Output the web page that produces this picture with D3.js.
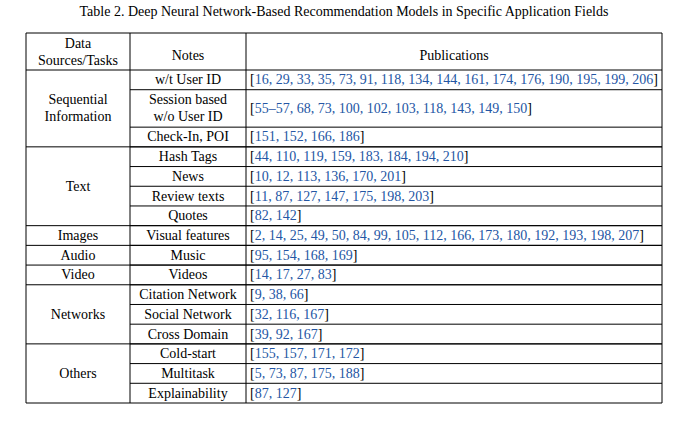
<!DOCTYPE html>
<html>
<head>
<meta charset="utf-8">
<script src="https://cdn.jsdelivr.net/npm/d3@7"></script>
<style>
body { margin: 0; background: #fff; }
</style>
</head>
<body>
<svg id="vis" width="689" height="429"></svg>
<script>
const CAPTION = "Table 2.  Deep Neural Network-Based Recommendation Models in Specific Application Fields";
const HEADERS = [["Data", "Sources/Tasks"], ["Notes"], ["Publications"]];
const GROUPS = [
    { "name" : ["Sequential", "Information"], "size" : 3 },
    { "name" : ["Text"], "size" : 4 },
    { "name" : ["Images"], "size" : 1 },
    { "name" : ["Audio"], "size" : 1 },
    { "name" : ["Video"], "size" : 1 },
    { "name" : ["Networks"], "size" : 3 },
    { "name" : ["Others"], "size" : 3 }
];
const NOTES = [
    ["w/t User ID"], ["Session based", "w/o User ID"], ["Check-In, POI"],
    ["Hash Tags"], ["News"], ["Review texts"], ["Quotes"],
    ["Visual features"], ["Music"], ["Videos"],
    ["Citation Network"], ["Social Network"], ["Cross Domain"],
    ["Cold-start"], ["Multitask"], ["Explainability"]
];
const PUBS = [
    "16, 29, 33, 35, 73, 91, 118, 134, 144, 161, 174, 176, 190, 195, 199, 206",
    "55\u201357, 68, 73, 100, 102, 103, 118, 143, 149, 150",
    "151, 152, 166, 186",
    "44, 110, 119, 159, 183, 184, 194, 210",
    "10, 12, 113, 136, 170, 201",
    "11, 87, 127, 147, 175, 198, 203",
    "82, 142",
    "2, 14, 25, 49, 50, 84, 99, 105, 112, 166, 173, 180, 192, 193, 198, 207",
    "95, 154, 168, 169",
    "14, 17, 27, 83",
    "9, 38, 66",
    "32, 116, 167",
    "39, 92, 167",
    "155, 157, 171, 172",
    "5, 73, 87, 175, 188",
    "87, 127"
];

const LEFT = 26, RIGHT = 662, TOP = 33, HEAD_BOTTOM = 70, BOTTOM = 403;
const COL1 = 130, COL2 = 246;
const FS = 14, BLUE = "#2456a4";
const FONT = "'Liberation Serif', 'DejaVu Serif', serif";

let svg = d3.select("#vis").attr("font-family", FONT);

// row units: two-line rows take more space
let units = NOTES.map(n => n.length > 1 ? 1.9 : 1);
let starts = [0];
units.forEach((u, i) => starts.push(starts[i] + u));
let yScale = d3.scaleLinear().domain([0, starts[starts.length - 1]]).range([HEAD_BOTTOM, BOTTOM]);

svg.append("text").attr("x", 344).attr("y", 16).attr("text-anchor", "middle")
    .attr("font-family", FONT).attr("font-size", 14).text(CAPTION);

function line(x1, y1, x2, y2) {
    svg.append("line").attr("x1", x1).attr("y1", y1).attr("x2", x2).attr("y2", y2)
        .attr("stroke", "#000").attr("stroke-width", 1);
}

function lines(arr, x, yc, anchor, fill) {
    let t = svg.append("text").attr("x", x).attr("text-anchor", anchor)
        .attr("font-family", FONT).attr("font-size", FS).attr("fill", fill || "#000");
    arr.forEach((s, i) => {
        t.append("tspan").attr("x", x)
            .attr("y", yc + (i - (arr.length - 1) / 2) * 17 + 4.5).text(s);
    });
}

// outer frame and columns
line(LEFT, TOP, RIGHT, TOP);
line(LEFT, HEAD_BOTTOM, RIGHT, HEAD_BOTTOM);
line(LEFT, BOTTOM, RIGHT, BOTTOM);
[LEFT, COL1, COL2, RIGHT].forEach(x => line(x, TOP, x, BOTTOM));

// header
lines(HEADERS[0], (LEFT + COL1) / 2, (TOP + HEAD_BOTTOM) / 2, "middle");
lines(HEADERS[1], (COL1 + COL2) / 2, 60 - 4.5, "middle");
lines(HEADERS[2], (COL2 + RIGHT) / 2, 60 - 4.5, "middle");

// rows
NOTES.forEach((n, i) => {
    let y0 = yScale(starts[i]), y1 = yScale(starts[i + 1]);
    if (i > 0) line(COL1, y0, RIGHT, y0);
    lines(n, (COL1 + COL2) / 2, (y0 + y1) / 2, "middle");
    let t = svg.append("text").attr("x", COL2 + 4).attr("y", (y0 + y1) / 2 + 4.5)
        .attr("font-family", FONT).attr("font-size", FS);
    t.append("tspan").text("[");
    t.append("tspan").attr("fill", BLUE).text(PUBS[i]);
    t.append("tspan").text("]");
});

// groups
let r = 0;
GROUPS.forEach(g => {
    let y0 = yScale(starts[r]), y1 = yScale(starts[r + g.size]);
    if (r > 0) line(LEFT, y0, RIGHT, y0);
    lines(g.name, (LEFT + COL1) / 2, (y0 + y1) / 2, "middle");
    r += g.size;
});
</script>
</body>
</html>
